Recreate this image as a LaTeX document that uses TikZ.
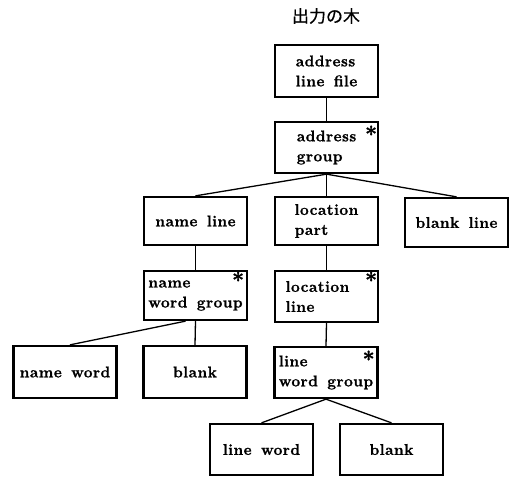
\documentclass[tikz,border=0pt]{standalone}
\usepackage{fontspec}
\newfontfamily\cjk{Noto Sans CJK JP}[FakeBold=0.6]
\newfontfamily\boxfont{Latin Modern Roman}[UprightFont=*/B,LetterSpace=3,WordSpace=1.5,FakeBold=1.2]
\begin{document}
\begin{tikzpicture}[x=1pt,y=-1pt,
  box/.style={draw,line width=2.3pt,minimum width=103pt,minimum height=50pt,
    inner sep=0pt,align=left,font=\fontsize{15.5}{20}\boxfont},
  edge/.style={line width=1.3pt},
  starmark/.style={inner sep=0pt,font=\fontsize{22}{22}\boxfont},
  heading/.style={inner sep=0pt,font=\fontsize{17}{18}\cjk}]
\useasboundingbox (0,0) rectangle (511,479);

\node[heading] (title) at (326,16) {出力の木};

% tree nodes
\node[box,minimum height=52pt] (alf) at (326.5,71)    {address\\line file};
\node[box,minimum height=51pt] (ag)  at (326.5,147.5) {address\\group};
\node[box,minimum height=48pt] (nl)  at (195.5,221)   {name line};
\node[box,minimum height=48pt] (lp)  at (326.5,221)   {location\\part};
\node[box,minimum height=49pt] (bl)  at (456.5,222.5) {blank line};
\node[box,minimum height=49pt] (nwg) at (195.5,295.5) {name\\word group};
\node[box,minimum height=51pt] (ll)  at (326.5,296.5) {location\hspace*{18pt}\\line};
\node[box,minimum height=52pt] (nw)  at (65,372)      {name word};
\node[box,minimum height=52pt] (bk1) at (195,372)     {blank};
\node[box,minimum height=51pt] (lwg) at (326,372.5)   {line\\word group};
\node[box,minimum height=51pt] (lw)  at (261.5,449.5) {line word};
\node[box,minimum height=51pt] (bk2) at (391.5,449.5) {blank};

% repetition marks
\node[starmark] (s1) at ([xshift=-8pt,yshift=-13pt]ag.north east)  {*};
\node[starmark] (s2) at ([xshift=-10pt,yshift=-10pt]nwg.north east) {*};
\node[starmark] (s3) at ([xshift=-8pt,yshift=-10pt]ll.north east)  {*};
\node[starmark] (s4) at ([xshift=-10pt,yshift=-13pt]lwg.north east) {*};

% connectors
\draw[edge] (alf.south) -- (ag.north);
\draw[edge] (ag.south) -- (nl.north);
\draw[edge] (ag.south) -- (lp.north);
\draw[edge] (ag.south) -- (bl.north);
\draw[edge] (nl.south) -- (nwg.north);
\draw[edge] (lp.south) -- (ll.north);
\draw[edge] ([xshift=-10pt]nwg.south) -- ([xshift=5pt]nw.north);
\draw[edge] (nwg.south) -- (bk1.north);
\draw[edge] (ll.south) -- (lwg.north);
\draw[edge] (lwg.south) -- (lw.north);
\draw[edge] (lwg.south) -- (bk2.north);
\end{tikzpicture}
\end{document}
